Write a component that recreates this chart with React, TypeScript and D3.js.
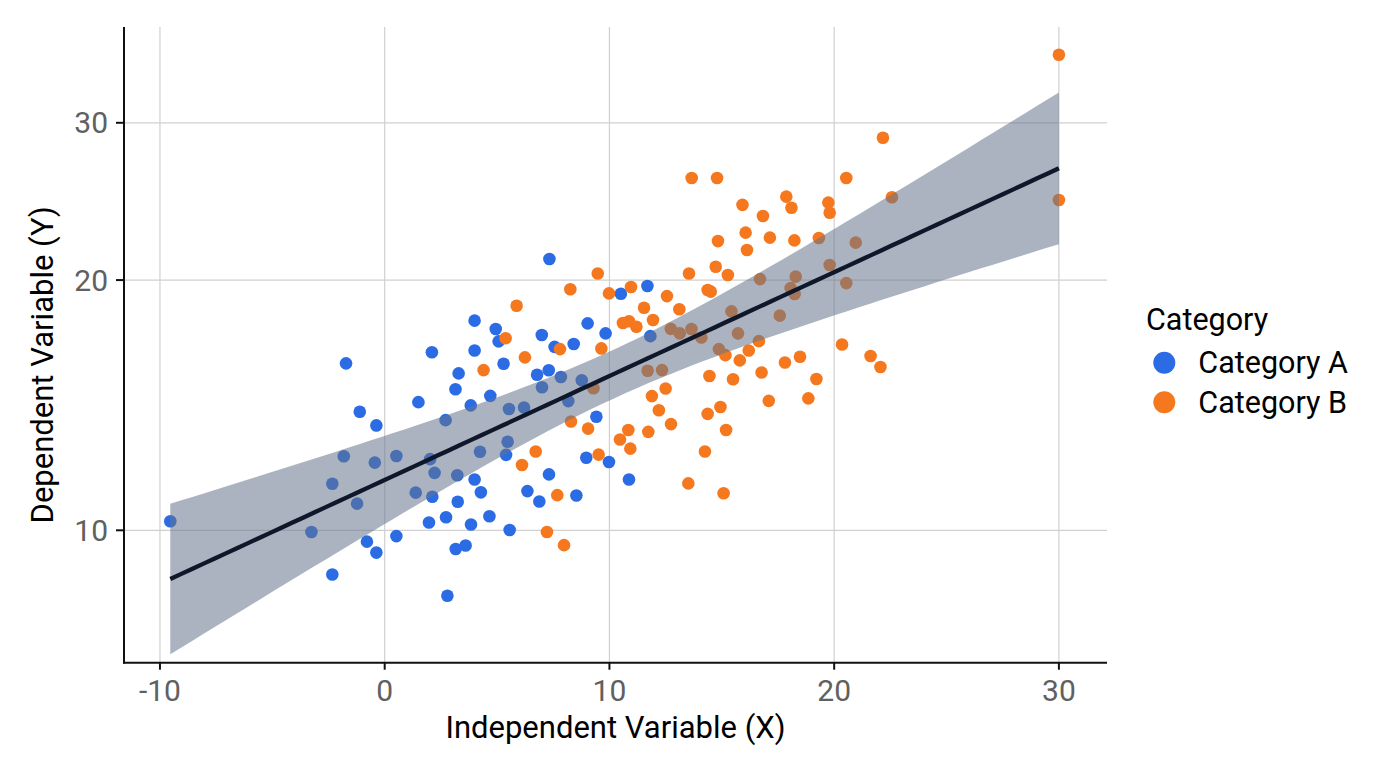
import { useMemo } from 'react'
import * as d3 from 'd3'

// x, y pairs
const categoryA: [number, number][] = [
  [-9.54, 10.27], [-1.72, 16.01], [-1.11, 14.02], [-0.37, 13.5], [-1.82, 12.38],
  [-0.44, 12.16], [0.52, 12.39], [-2.33, 11.45], [-1.23, 10.81], [1.38, 11.16],
  [-3.26, 9.95], [-0.79, 9.67], [-0.37, 9.36], [0.52, 9.83], [-2.33, 8.76],
  [1.5, 14.4], [2.1, 16.5], [2.02, 12.28], [7.33, 21.14], [10.51, 19.29],
  [4.0, 17.96], [4.94, 17.56], [5.07, 16.99], [4.0, 16.58], [6.99, 17.28],
  [9.03, 17.83], [9.83, 17.36], [7.56, 16.74], [8.41, 16.87], [5.29, 15.99],
  [3.29, 15.58], [3.15, 14.92], [6.78, 15.52], [7.3, 15.71], [7.84, 15.43],
  [7.0, 15.0], [8.77, 15.29], [4.7, 14.65], [3.83, 14.27], [5.53, 14.13],
  [6.2, 14.19], [8.17, 14.44], [2.71, 13.7], [9.42, 13.83], [5.47, 12.9],
  [5.4, 12.43], [4.24, 12.54], [2.22, 11.81], [3.23, 11.73], [2.12, 11.03],
  [4.0, 11.59], [4.28, 11.17], [3.25, 10.87], [7.31, 11.76], [6.35, 11.21],
  [6.88, 10.88], [8.53, 11.07], [8.97, 12.33], [9.98, 12.18], [10.87, 11.59],
  [1.97, 10.23], [2.73, 10.39], [3.84, 10.17], [4.66, 10.42], [5.56, 10.01],
  [3.16, 9.46], [3.6, 9.56], [2.79, 8.21], [11.69, 19.69], [11.82, 17.23],
]

const categoryB: [number, number][] = [
  [9.48, 20.35], [8.26, 19.52], [9.98, 19.31], [10.96, 19.64], [5.87, 18.69],
  [5.38, 17.13], [7.8, 16.64], [6.24, 16.27], [9.64, 16.67], [4.4, 15.72],
  [10.6, 17.85], [10.87, 17.93], [11.2, 17.67], [9.29, 14.96], [8.29, 13.65],
  [9.05, 13.38], [10.84, 13.33], [10.47, 12.98], [10.93, 12.65], [9.52, 12.44],
  [6.72, 12.55], [6.11, 12.08], [7.68, 11.08], [7.22, 9.95], [7.98, 9.57],
  [13.66, 26.07], [14.79, 26.07], [20.54, 26.07], [15.92, 24.33], [17.87, 24.85],
  [18.1, 24.15], [19.74, 24.47], [19.8, 23.84], [16.83, 23.64], [16.06, 22.64],
  [14.83, 22.15], [16.12, 21.64], [17.14, 22.35], [18.23, 22.19], [19.32, 22.33],
  [20.96, 22.06], [14.73, 20.71], [15.27, 20.27], [13.54, 20.35], [19.8, 20.81],
  [16.7, 20.05], [18.29, 20.18], [20.54, 19.84], [12.56, 19.17], [14.37, 19.48],
  [14.51, 19.4], [18.06, 19.58], [18.24, 19.28], [11.54, 18.59], [13.11, 18.51],
  [11.94, 17.99], [15.43, 18.41], [17.58, 18.2], [12.73, 17.57], [13.13, 17.36],
  [13.65, 17.56], [14.09, 17.17], [15.72, 17.36], [16.65, 17.0], [16.2, 16.58],
  [14.87, 16.64], [15.16, 16.37], [15.8, 16.14], [20.35, 16.85], [21.62, 16.33],
  [17.81, 16.05], [18.48, 16.3], [11.7, 15.69], [12.34, 15.72], [14.45, 15.47],
  [15.5, 15.33], [16.77, 15.62], [19.21, 15.34], [12.5, 14.95], [11.89, 14.64],
  [12.2, 14.08], [12.74, 13.55], [14.94, 14.21], [14.37, 13.94], [17.09, 14.45],
  [18.85, 14.55], [15.19, 13.33], [11.73, 13.26], [14.25, 12.55], [13.51, 11.46],
  [15.08, 11.14], [30.0, 35.59], [22.17, 28.89], [22.57, 24.81], [30.0, 24.64],
  [22.06, 15.85],
]

const xTicks = [-10, 0, 10, 20, 30]
const yTicks = [10, 20, 30]
const seriesNames = ['Category A', 'Category B']
const seriesColors = ['#2B6CE5', '#F5781F']

const W = 1376
const H = 768
const panel = { left: 124, right: 1107, top: 27, bottom: 662.7 }
const SYMLOG_C = 2.7
const BAND_K = 4.4
const FONT = 'Roboto, "Noto Sans", sans-serif'

export default function App() {
  const x = useMemo(
    () => d3.scaleLinear().domain([-11.6, 32.14]).range([panel.left, panel.right]),
    []
  )
  const y = useMemo(
    () => d3.scaleSymlog().constant(SYMLOG_C).domain([10, 30]).range([530.3, 122.8]),
    []
  )

  // linear fit on the transformed y scale, like geom_smooth(method = 'lm')
  const fit = useMemo(() => {
    const pts = [...categoryA, ...categoryB]
    const T = (v: number) => Math.log1p(v / SYMLOG_C)
    const back = (t: number) => SYMLOG_C * Math.expm1(t)
    const n = pts.length
    const xbar = d3.mean(pts, d => d[0])!
    const tbar = d3.mean(pts, d => T(d[1]))!
    const sxx = d3.sum(pts, d => (d[0] - xbar) ** 2)
    const sxt = d3.sum(pts, d => (d[0] - xbar) * (T(d[1]) - tbar))
    const b = sxt / sxx
    const a = tbar - b * xbar
    const s = Math.sqrt(d3.sum(pts, d => (T(d[1]) - a - b * d[0]) ** 2) / (n - 2))
    const [x0, x1] = d3.extent(pts, d => d[0]) as [number, number]
    const xs = d3.range(0, 81).map(i => x0 + ((x1 - x0) * i) / 80)
    return xs.map(xv => {
      const t = a + b * xv
      const se = s * Math.sqrt(1 / n + (xv - xbar) ** 2 / sxx)
      return { x: xv, fit: back(t), lo: back(t - BAND_K * se), hi: back(t + BAND_K * se) }
    })
  }, [])

  const line = d3
    .line<{ x: number; fit: number }>()
    .x(d => x(d.x))
    .y(d => y(d.fit))
  const area = d3
    .area<{ x: number; lo: number; hi: number }>()
    .x(d => x(d.x))
    .y0(d => y(d.lo))
    .y1(d => y(d.hi))

  const series = [categoryA, categoryB]

  return (
    <div style={{ position: 'absolute', left: 0, top: 0 }}>
      <svg width={W} height={H} style={{ display: 'block', background: '#fff' }} fontFamily={FONT}>
        {/* grid */}
        <g stroke="#d0d0d0" strokeWidth={1.2}>
          {xTicks.map(t => (
            <line key={'gx' + t} x1={x(t)} x2={x(t)} y1={panel.top} y2={panel.bottom} />
          ))}
          {yTicks.map(t => (
            <line key={'gy' + t} x1={panel.left} x2={panel.right} y1={y(t)} y2={y(t)} />
          ))}
        </g>

        {/* points */}
        {series.map((pts, si) => (
          <g key={seriesNames[si]} fill={seriesColors[si]}>
            {pts.map((d, i) => (
              <circle key={i} cx={x(d[0])} cy={y(d[1])} r={6.3} />
            ))}
          </g>
        ))}

        {/* confidence band + fit line */}
        <path d={area(fit) || ''} fill="#64748b" fillOpacity={0.55} />
        <path d={line(fit) || ''} fill="none" stroke="#0f172a" strokeWidth={4.3} />

        {/* axes */}
        <g stroke="#111" strokeWidth={2}>
          <line x1={panel.left} x2={panel.left} y1={panel.top} y2={panel.bottom + 1} />
          <line x1={panel.left - 1} x2={panel.right} y1={panel.bottom} y2={panel.bottom} />
          {xTicks.map(t => (
            <line key={'tx' + t} x1={x(t)} x2={x(t)} y1={panel.bottom} y2={panel.bottom + 7} />
          ))}
          {yTicks.map(t => (
            <line key={'ty' + t} x1={panel.left - 8} x2={panel.left} y1={y(t)} y2={y(t)} />
          ))}
        </g>
        <g fill="#606060" fontSize={30}>
          {xTicks.map(t => (
            <text key={'lx' + t} x={x(t)} y={700.5} textAnchor="middle">
              {t}
            </text>
          ))}
          {yTicks.map(t => (
            <text key={'ly' + t} x={108} y={y(t)} dy="0.35em" textAnchor="end">
              {t}
            </text>
          ))}
        </g>
        <text x={(panel.left + panel.right) / 2} y={737.5} textAnchor="middle" fontSize={31} fill="#000">
          Independent Variable (X)
        </text>
        <text
          transform={`translate(53.3,${(panel.top + panel.bottom) / 2 + 20}) rotate(-90)`}
          textAnchor="middle"
          fontSize={31}
          fill="#000"
        >
          Dependent Variable (Y)
        </text>

        {/* legend */}
        <text x={1146} y={330} fontSize={30.5} fill="#000">
          Category
        </text>
        {seriesNames.map((name, i) => (
          <g key={name} transform={`translate(1164.3,${362.7 + i * 39.6})`}>
            <circle r={11} fill={seriesColors[i]} />
            <text x={34} dy="0.35em" fontSize={30.5} fill="#000">
              {name}
            </text>
          </g>
        ))}
      </svg>
    </div>
  )
}
